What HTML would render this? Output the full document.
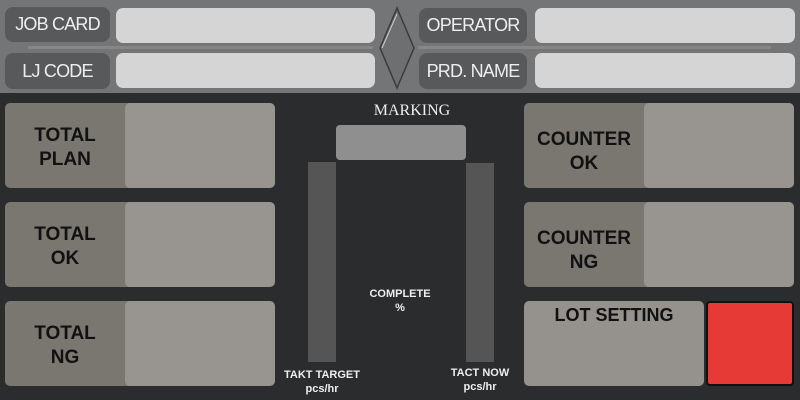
<!DOCTYPE html>
<html><head><meta charset="utf-8"><style>
*{margin:0;padding:0;box-sizing:border-box}
body{width:800px;height:400px;background:#2b2c2e;position:relative;overflow:hidden;font-family:"Liberation Sans",sans-serif}
.a{position:absolute}
.top{left:0;top:0;width:800px;height:93px;background:#747576}
.pill{background:#58595b;border-radius:8px;color:#eee;font-size:18px;display:flex;align-items:center;justify-content:center;letter-spacing:-0.8px}
.inp{background:#d4d5d4;border-radius:7px}
.card{border-radius:5px;background:#7a7670;overflow:hidden}
.card .l{position:absolute;left:0;top:0;width:120px;height:100%;display:flex;align-items:center;justify-content:center;text-align:center;font-weight:bold;font-size:19px;line-height:24px;color:#111;padding-top:4px}
.card .r{position:absolute;left:120px;top:0;right:0;height:100%;background:#98948f;border-radius:5px}
.w{color:#eee;font-weight:bold;font-size:11px;text-align:center;line-height:14px}
</style></head><body>
<div class="a top"></div>
<div class="a" style="left:28px;top:46px;width:345px;height:3px;background:#8a8682"></div>
<div class="a" style="left:418px;top:46px;width:353px;height:3px;background:#8a8682"></div>
<div class="a pill" style="left:5px;top:7px;width:105px;height:35px">JOB CARD</div>
<div class="a inp" style="left:116px;top:8px;width:259px;height:35px"></div>
<div class="a pill" style="left:5px;top:53px;width:105px;height:36px">LJ CODE</div>
<div class="a inp" style="left:116px;top:53px;width:259px;height:35px"></div>
<div class="a pill" style="left:419px;top:8px;width:108px;height:35px">OPERATOR</div>
<div class="a inp" style="left:535px;top:8px;width:260px;height:35px"></div>
<div class="a pill" style="left:419px;top:53px;width:108px;height:36px">PRD. NAME</div>
<div class="a inp" style="left:535px;top:53px;width:260px;height:35px"></div>
<svg class="a" style="left:376px;top:6px" width="42" height="84"><polygon points="21,2 38,42 21,82 4,42" fill="#6e6f70" stroke="#3a3b3c" stroke-width="1.5"/><polyline points="6,42 21,8" stroke="#ccc" stroke-width="1" fill="none"/></svg>

<div class="a card" style="left:5px;top:103px;width:270px;height:85px"><div class="l">TOTAL<br>PLAN</div><div class="r"></div></div>
<div class="a card" style="left:5px;top:202px;width:270px;height:85px"><div class="l">TOTAL<br>OK</div><div class="r"></div></div>
<div class="a card" style="left:5px;top:301px;width:270px;height:85px"><div class="l">TOTAL<br>NG</div><div class="r"></div></div>
<div class="a card" style="left:524px;top:103px;width:270px;height:85px"><div class="l" style="padding-top:12px">COUNTER<br>OK</div><div class="r"></div></div>
<div class="a card" style="left:524px;top:202px;width:270px;height:85px"><div class="l" style="padding-top:12px">COUNTER<br>NG</div><div class="r"></div></div>
<div class="a" style="left:524px;top:301px;width:180px;height:85px;background:#95918c;border-radius:5px;text-align:center;font-weight:bold;font-size:18px;color:#111;padding-top:4px">LOT SETTING</div>
<div class="a" style="left:706px;top:301px;width:88px;height:85px;background:#e53a36;border:2px solid #111;border-radius:4px"></div>

<div class="a" style="left:336px;top:102px;width:152px;text-align:center;font-family:'Liberation Serif',serif;font-size:16px;color:#eee">MARKING</div>
<div class="a" style="left:336px;top:125px;width:130px;height:35px;background:#8f8f8f;border-radius:4px"></div>
<div class="a" style="left:308px;top:162px;width:28px;height:200px;background:#555"></div>
<div class="a" style="left:466px;top:163px;width:28px;height:199px;background:#555"></div>
<div class="a w" style="left:340px;top:287px;width:120px">COMPLETE<br>%</div>
<div class="a w" style="left:272px;top:368px;width:100px">TAKT TARGET<br>pcs/hr</div>
<div class="a w" style="left:430px;top:366px;width:100px">TACT NOW<br>pcs/hr</div>
</body></html>
